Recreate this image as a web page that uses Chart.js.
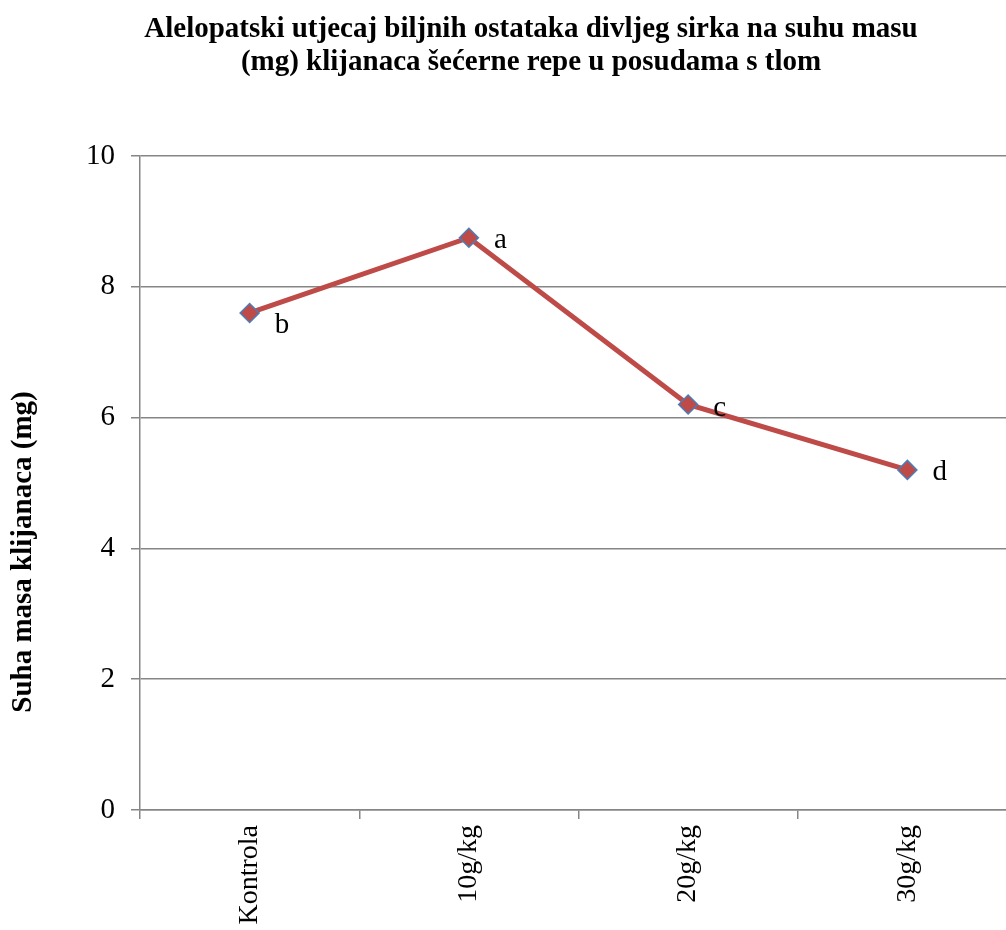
<!DOCTYPE html>
<html>
<head>
<meta charset="utf-8">
<script src="https://cdn.jsdelivr.net/npm/chart.js@4.4.1/dist/chart.umd.min.js"></script>
<style>
  html, body { margin: 0; padding: 0; background: #ffffff; overflow: hidden; }
  #wrap { width: 1006px; height: 930px; position: relative; overflow: hidden; }
  #c { position: absolute; left: 0; top: 0; }
</style>
</head>
<body>
<div id="wrap"><canvas id="c" width="1028" height="930"></canvas></div>
<script>
const titleLines = [
  'Alelopatski utjecaj biljnih ostataka divljeg sirka na suhu masu',
  '(mg) klijanaca šećerne repe u posudama s tlom'
];
const categories = ['Kontrola', '10g/kg', '20g/kg', '30g/kg'];
const dryMass = [7.6, 8.75, 6.2, 5.2];
const significance = ['b', 'a', 'c', 'd'];
const yTitle = 'Suha masa klijanaca (mg)';
const yTicks = [0, 2, 4, 6, 8, 10];

const SERIF = '"Liberation Serif", "Times New Roman", serif';

const titlePlugin = {
  id: 'serifTitle',
  afterDraw(chart, args, opts) {
    const ctx = chart.ctx;
    ctx.save();
    ctx.font = 'bold 29px ' + SERIF;
    ctx.fillStyle = '#000';
    ctx.textAlign = 'center';
    ctx.textBaseline = 'alphabetic';
    opts.lines.forEach((t, i) => ctx.fillText(t, opts.x, opts.y + i * opts.lineGap));
    // vertical axis title
    ctx.translate(opts.yTitleX, opts.yTitleY);
    ctx.rotate(-Math.PI / 2);
    ctx.textBaseline = 'middle';
    ctx.fillText(opts.yTitle, 0, 0);
    ctx.restore();
  }
};

const letterPlugin = {
  id: 'letters',
  afterDatasetsDraw(chart, args, opts) {
    const ctx = chart.ctx;
    const meta = chart.getDatasetMeta(0);
    ctx.save();
    ctx.font = '29px ' + SERIF;
    ctx.fillStyle = '#000';
    ctx.textAlign = 'left';
    ctx.textBaseline = 'middle';
    meta.data.forEach((pt, i) => {
      const dy = opts.dy[i] || 0;
      ctx.fillText(opts.labels[i], pt.x + opts.dx, pt.y + dy);
    });
    ctx.restore();
  }
};

new Chart(document.getElementById('c'), {
  type: 'line',
  data: {
    labels: categories,
    datasets: [{
      data: dryMass,
      borderColor: '#be4b48',
      borderWidth: 5,
      backgroundColor: '#be4b48',
      pointStyle: 'rectRot',
      pointRadius: 9.5,
      pointBorderWidth: 1.5,
      pointBorderColor: '#4a7ebb',
      pointBackgroundColor: '#be4b48',
      tension: 0
    }]
  },
  options: {
    responsive: false,
    animation: false,
    devicePixelRatio: 1,
    layout: { padding: { top: 156, right: 0, left: 0, bottom: 0 } },
    plugins: {
      legend: { display: false },
      tooltip: { enabled: false },
      title: { display: false },
      serifTitle: { lines: titleLines, x: 531, y: 37, lineGap: 33, yTitle: yTitle, yTitleX: 24, yTitleY: 552 },
      letters: { labels: significance, dx: 25, dy: [12, 3, 4, 2] }
    },
    scales: {
      x: {
        type: 'category',
        offset: true,
        afterFit(scale) { scale.height = 120; },
        grid: {
          offset: true,
          drawOnChartArea: false,
          drawTicks: true,
          tickLength: 9,
          color: '#868686',
          lineWidth: 1.5
        },
        border: { display: true, color: '#868686', width: 1.5 },
        ticks: {
          minRotation: 90,
          maxRotation: 90,
          autoSkip: false,
          padding: 6,
          color: '#000',
          font: { family: SERIF, size: 28 }
        }
      },
      y: {
        min: 0,
        max: 10,
        afterFit(scale) { scale.width = 140; },
        afterBuildTicks(scale) { scale.ticks = yTicks.map(v => ({ value: v })); },
        grid: {
          drawTicks: true,
          tickLength: 9,
          color: '#868686',
          lineWidth: 1.5
        },
        border: { display: true, color: '#868686', width: 1.5 },
        ticks: {
          padding: 16,
          color: '#000',
          font: { family: SERIF, size: 29 }
        },
        title: { display: false }
      }
    }
  },
  plugins: [titlePlugin, letterPlugin]
});
</script>
</body>
</html>
